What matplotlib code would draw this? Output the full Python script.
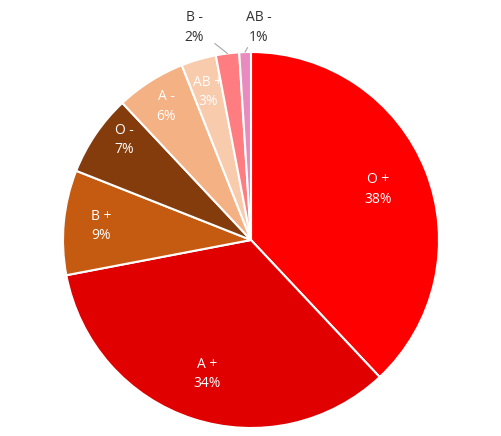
import numpy as np
import matplotlib.pyplot as plt

# Blood type distribution
groups = ['O +', 'A +', 'B +', 'O -', 'A -', 'AB +', 'B -', 'AB -']
shares = [38, 34, 9, 7, 6, 3, 2, 1]
colors = ['#FF0000', '#E00000', '#C55A11', '#843C0C',
          '#F4B183', '#F8CBAD', '#FF7C80', '#E98BBE']

# label placement (radius fraction); None -> outside with leader line
label_r = [0.73, 0.75, 0.80, 0.86, 0.84, 0.82, None, None]
outside_pos = {6: (-0.30, 1.13), 7: (0.04, 1.13)}

plt.rcParams['font.family'] = ['Open Sans', 'DejaVu Sans']

fig = plt.figure(figsize=(5.02, 4.36), dpi=100)
ax = fig.add_axes([63 / 502, 8 / 436, 376 / 502, 376 / 436])

wedges, _ = ax.pie(shares, colors=colors, startangle=90, counterclock=False,
                   radius=1.0, wedgeprops=dict(edgecolor='white', linewidth=1.5))
ax.set_xlim(-1, 1)
ax.set_ylim(-1, 1)
ax.set_aspect('equal')

total = sum(shares)
for i, (g, s) in enumerate(zip(groups, shares)):
    w = wedges[i]
    mid = np.deg2rad((w.theta1 + w.theta2) / 2)
    if i == 3:
        mid += np.deg2rad(-4)
    txt = f'{g}\n{round(100 * s / total)}%'
    if label_r[i] is not None:
        r = label_r[i]
        ax.text(r * np.cos(mid), r * np.sin(mid), txt, ha='center', va='center',
                color='white', fontsize=10, linespacing=1.4)
    else:
        tx, ty = outside_pos[i]
        ax.annotate(txt, xy=(np.cos(mid), np.sin(mid)), xytext=(tx, ty),
                    ha='center', va='center', color='#333333', fontsize=10,
                    linespacing=1.4,
                    arrowprops=dict(arrowstyle='-', color='#A6A6A6', lw=0.8,
                                    shrinkA=7, shrinkB=0))

fig.savefig('out.png', dpi=100)
